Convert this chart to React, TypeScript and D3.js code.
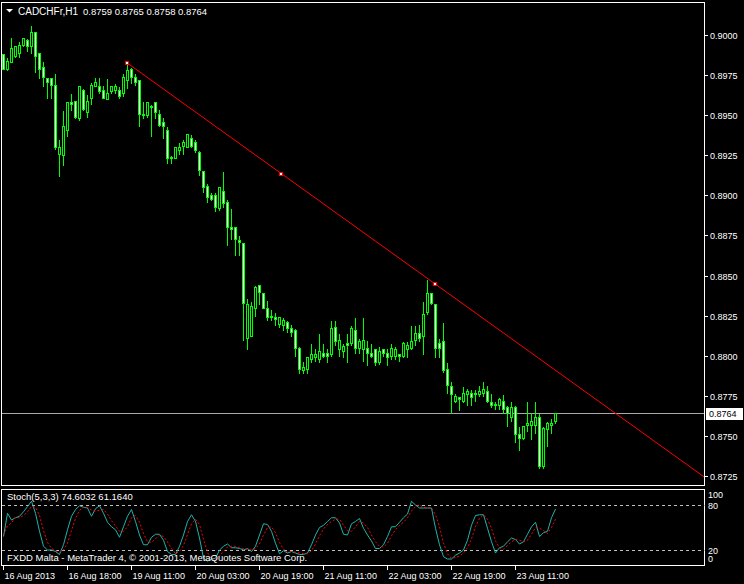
import React from 'react';
import * as d3 from 'd3';

// CADCHFr H1 candles
const open = [
  0.8988, 0.8979, 0.8983, 0.8987, 0.8989, 0.8994, 0.8997, 0.8993, 0.9002, 0.8989,
  0.8980, 0.8973, 0.8973, 0.8969, 0.8926, 0.8925, 0.8941, 0.8958, 0.8959, 0.8948,
  0.8966, 0.8952, 0.8961, 0.8968, 0.8968, 0.8966, 0.8960, 0.8965, 0.8966, 0.8966,
  0.8964, 0.8972, 0.8979, 0.8974, 0.8972, 0.8951, 0.8950, 0.8956, 0.8958, 0.8951,
  0.8946, 0.8941, 0.8924, 0.8923, 0.8928, 0.8931, 0.8930, 0.8936, 0.8933, 0.8927,
  0.8915, 0.8906, 0.8900, 0.8900, 0.8892, 0.8903, 0.8896, 0.8880, 0.8880, 0.8872,
  0.8870, 0.8811, 0.8812, 0.8830, 0.8844, 0.8839, 0.8830, 0.8825, 0.8824, 0.8820,
  0.8819, 0.8821, 0.8817, 0.8816, 0.8805, 0.8791, 0.8792, 0.8798, 0.8799, 0.8798,
  0.8802, 0.8802, 0.8801, 0.8818, 0.8804, 0.8803, 0.8808, 0.8808, 0.8816, 0.8805,
  0.8804, 0.8805, 0.8802, 0.8804, 0.8796, 0.8804, 0.8802, 0.8800, 0.8800, 0.8801,
  0.8800, 0.8804, 0.8805, 0.8810, 0.8814, 0.8812, 0.8827, 0.8839, 0.8832, 0.8808,
  0.8809, 0.8792, 0.8781, 0.8772, 0.8774, 0.8772, 0.8776, 0.8777, 0.8777, 0.8776,
  0.8777, 0.8778, 0.8771, 0.8770, 0.8769, 0.8772, 0.8768, 0.8762, 0.8768, 0.8751,
  0.8749, 0.8757, 0.8757, 0.8757, 0.8762, 0.8731, 0.8754, 0.8757, 0.8759,
];
const high = [
  0.8989, 0.8986, 0.8999, 0.8994, 0.8996, 0.8999, 0.8998, 0.9006, 0.9002, 0.8989,
  0.8984, 0.8974, 0.8974, 0.8976, 0.8935, 0.8953, 0.8959, 0.8964, 0.8959, 0.8969,
  0.8967, 0.8963, 0.8971, 0.8974, 0.8974, 0.8969, 0.8973, 0.8969, 0.8970, 0.8968,
  0.8976, 0.8982, 0.8980, 0.8976, 0.8972, 0.8959, 0.8959, 0.8957, 0.8959, 0.8954,
  0.8949, 0.8943, 0.8925, 0.8931, 0.8933, 0.8935, 0.8939, 0.8938, 0.8935, 0.8928,
  0.8916, 0.8908, 0.8902, 0.8902, 0.8906, 0.8915, 0.8898, 0.8892, 0.8880, 0.8875,
  0.8870, 0.8836, 0.8834, 0.8844, 0.8845, 0.8840, 0.8835, 0.8829, 0.8827, 0.8825,
  0.8824, 0.8822, 0.8820, 0.8817, 0.8806, 0.8797, 0.8799, 0.8808, 0.8805, 0.8814,
  0.8808, 0.8805, 0.8822, 0.8822, 0.8814, 0.8808, 0.8814, 0.8819, 0.8824, 0.8811,
  0.8824, 0.8810, 0.8808, 0.8805, 0.8806, 0.8805, 0.8805, 0.8808, 0.8806, 0.8802,
  0.8809, 0.8809, 0.8819, 0.8819, 0.8820, 0.8834, 0.8848, 0.8840, 0.8833, 0.8811,
  0.8821, 0.8796, 0.8784, 0.8777, 0.8775, 0.8781, 0.8780, 0.8779, 0.8779, 0.8782,
  0.8784, 0.8782, 0.8777, 0.8772, 0.8774, 0.8776, 0.8769, 0.8772, 0.8769, 0.8756,
  0.8757, 0.8772, 0.8765, 0.8772, 0.8764, 0.8756, 0.8759, 0.8761, 0.8765,
];
const low = [
  0.8979, 0.8978, 0.8983, 0.8986, 0.8986, 0.8993, 0.8990, 0.8989, 0.8977, 0.8973,
  0.8968, 0.8961, 0.8961, 0.8929, 0.8912, 0.8919, 0.8937, 0.8953, 0.8948, 0.8947,
  0.8953, 0.8949, 0.8957, 0.8968, 0.8964, 0.8961, 0.8960, 0.8964, 0.8964, 0.8961,
  0.8962, 0.8967, 0.8970, 0.8969, 0.8943, 0.8948, 0.8949, 0.8937, 0.8948, 0.8943,
  0.8936, 0.8920, 0.8920, 0.8923, 0.8926, 0.8926, 0.8930, 0.8930, 0.8927, 0.8913,
  0.8902, 0.8896, 0.8897, 0.8890, 0.8891, 0.8893, 0.8869, 0.8873, 0.8863, 0.8863,
  0.8810, 0.8804, 0.8812, 0.8825, 0.8832, 0.8830, 0.8822, 0.8822, 0.8819, 0.8818,
  0.8816, 0.8815, 0.8812, 0.8800, 0.8789, 0.8789, 0.8789, 0.8796, 0.8797, 0.8796,
  0.8799, 0.8796, 0.8800, 0.8807, 0.8800, 0.8799, 0.8796, 0.8807, 0.8802, 0.8802,
  0.8797, 0.8794, 0.8799, 0.8794, 0.8795, 0.8800, 0.8794, 0.8798, 0.8798, 0.8797,
  0.8799, 0.8799, 0.8804, 0.8807, 0.8809, 0.8801, 0.8826, 0.8832, 0.8799, 0.8799,
  0.8790, 0.8777, 0.8764, 0.8771, 0.8766, 0.8771, 0.8769, 0.8769, 0.8772, 0.8775,
  0.8775, 0.8771, 0.8768, 0.8767, 0.8767, 0.8764, 0.8756, 0.8759, 0.8746, 0.8741,
  0.8748, 0.8753, 0.8748, 0.8752, 0.8730, 0.8730, 0.8744, 0.8752, 0.8758,
];
const close = [
  0.8979, 0.8984, 0.8992, 0.8993, 0.8994, 0.8998, 0.8993, 0.9002, 0.8987, 0.8979,
  0.8974, 0.8971, 0.8969, 0.8930, 0.8930, 0.8943, 0.8958, 0.8957, 0.8949, 0.8968,
  0.8954, 0.8959, 0.8969, 0.8971, 0.8965, 0.8961, 0.8964, 0.8968, 0.8968, 0.8962,
  0.8974, 0.8978, 0.8974, 0.8971, 0.8951, 0.8950, 0.8958, 0.8955, 0.8952, 0.8944,
  0.8943, 0.8923, 0.8923, 0.8930, 0.8930, 0.8933, 0.8938, 0.8931, 0.8928, 0.8916,
  0.8905, 0.8899, 0.8898, 0.8893, 0.8905, 0.8895, 0.8880, 0.8879, 0.8873, 0.8871,
  0.8833, 0.8832, 0.8831, 0.8843, 0.8840, 0.8830, 0.8824, 0.8824, 0.8823, 0.8824,
  0.8822, 0.8817, 0.8815, 0.8805, 0.8792, 0.8793, 0.8799, 0.8801, 0.8801, 0.8803,
  0.8800, 0.8800, 0.8817, 0.8809, 0.8810, 0.8806, 0.8807, 0.8817, 0.8805, 0.8809,
  0.8810, 0.8802, 0.8800, 0.8796, 0.8803, 0.8802, 0.8799, 0.8805, 0.8804, 0.8800,
  0.8808, 0.8807, 0.8809, 0.8814, 0.8811, 0.8826, 0.8839, 0.8833, 0.8805, 0.8805,
  0.8791, 0.8782, 0.8776, 0.8775, 0.8773, 0.8777, 0.8778, 0.8774, 0.8776, 0.8778,
  0.8779, 0.8772, 0.8769, 0.8769, 0.8773, 0.8767, 0.8764, 0.8768, 0.8751, 0.8749,
  0.8756, 0.8758, 0.8759, 0.8762, 0.8731, 0.8755, 0.8758, 0.8758, 0.8764,
];

// Stochastic(5,3,3): main (%K) and signal (%D)
const stochK = [
  38, 69, 60, 63, 65, 71, 78, 85, 69, 45, 25, 20, 20, 18, 14, 27, 47, 65, 74, 79,
  77, 76, 65, 75, 79, 69, 57, 51, 47, 37, 51, 65, 74, 58, 40, 27, 27, 37, 41, 41,
  33, 18, 14, 14, 25, 40, 58, 67, 58, 36, 9, 5, 8, 9, 20, 25, 28, 23, 23, 22,
  20, 22, 18, 25, 40, 55, 54, 45, 29, 15, 19, 16, 18, 16, 14, 14, 16, 27, 40, 50,
  53, 58, 63, 63, 56, 41, 40, 55, 58, 62, 49, 40, 32, 22, 22, 27, 38, 51, 51, 57,
  63, 68, 85, 80, 76, 76, 76, 76, 49, 27, 11, 8, 8, 13, 16, 20, 33, 53, 66, 67,
  67, 49, 31, 16, 23, 25, 31, 36, 34, 28, 31, 41, 51, 57, 38, 43, 45, 63, 74.6032,
];
const stochD = [
  40, 52, 56, 64, 63, 66, 71, 78, 77, 66, 46, 30, 22, 19, 17, 20, 29, 46, 62, 73,
  77, 77, 73, 72, 73, 74, 68, 59, 52, 45, 45, 51, 63, 66, 57, 42, 31, 30, 35, 40,
  38, 31, 22, 15, 18, 26, 41, 55, 61, 54, 34, 17, 7, 7, 12, 18, 24, 25, 25, 23,
  22, 21, 20, 22, 28, 40, 50, 51, 43, 30, 21, 17, 18, 17, 16, 15, 15, 19, 28, 39,
  48, 54, 58, 61, 61, 53, 46, 45, 51, 58, 56, 50, 40, 31, 25, 24, 29, 39, 47, 53,
  57, 63, 72, 78, 80, 77, 76, 76, 67, 51, 29, 15, 9, 10, 12, 16, 23, 35, 51, 62,
  67, 61, 49, 32, 23, 21, 26, 31, 34, 33, 31, 33, 41, 50, 49, 46, 42, 50, 61.164,
];

const priceTicks = [0.9, 0.8975, 0.895, 0.8925, 0.89, 0.8875, 0.885, 0.8825, 0.88, 0.8775, 0.875, 0.8725];
const timeLabels = ['16 Aug 2013', '16 Aug 18:00', '19 Aug 11:00', '20 Aug 03:00', '20 Aug 19:00',
  '21 Aug 11:00', '22 Aug 03:00', '22 Aug 19:00', '23 Aug 11:00'];
const timeLabelBars = [0, 16, 32, 48, 64, 80, 96, 112, 128];

// trendline drawn between two bars
const trendBars = [31, 108];
const trendPrices = [0.89824, 0.88446];
const lastPrice = 0.8764;

const GREEN = '#00ff00';
const FONT = '"Liberation Sans", Arial, sans-serif';

export default function App() {
  const W = 744;
  const H = 584;
  const right = 704.5;

  const x = d3.scaleLinear().domain([0, 175]).range([3.5, 703.5]);
  const y = d3.scaleLinear().domain([0.8725, 0.9]).range([476, 35]);
  const ys = d3.scaleLinear().domain([0, 100]).range([565, 490]);
  const snap = (v: number) => Math.round(v) + 0.5;

  const kLine = d3.line<number>().x((d, i) => x(i)).y((d) => ys(d));

  // trendline extended to the right edge
  const tx0 = x(trendBars[0]);
  const ty0 = y(trendPrices[0]);
  const tx1 = x(trendBars[1]);
  const ty1 = y(trendPrices[1]);
  const slope = (ty1 - ty0) / (tx1 - tx0);
  const txEnd = right;
  const tyEnd = ty0 + slope * (txEnd - tx0);
  const marks = [[tx0, ty0], [(tx0 + tx1) / 2, (ty0 + ty1) / 2], [tx1, ty1]];

  return (
    <svg width={W} height={H} style={{ position: 'absolute', left: 0, top: 0, background: '#000' }}
      fontFamily={FONT}>
      <defs>
        <clipPath id="mainClip">
          <rect x={2} y={3} width={702} height={482} />
        </clipPath>
        <clipPath id="subClip">
          <rect x={2} y={490} width={702} height={75} />
        </clipPath>
      </defs>
      <rect width={W} height={H} fill="#000" />

      {/* current price line */}
      <line x1={2} x2={right} y1={snap(y(lastPrice))} y2={snap(y(lastPrice))} stroke="#a8a8a8" />

      {/* candles */}
      <g shapeRendering="crispEdges">
        {open.map((o, i) => {
          const c = close[i];
          const cx = x(i);
          const top = snap(y(Math.max(o, c)));
          const bot = snap(y(Math.min(o, c)));
          const bull = c > o;
          return (
            <g key={i}>
              <line x1={cx} x2={cx} y1={snap(y(high[i]))} y2={snap(y(low[i])) + 0.5} stroke={GREEN} />
              {top === bot ? (
                <line x1={cx - 1.5} x2={cx + 1.5} y1={top} y2={top} stroke={GREEN} />
              ) : (
                <rect x={cx - 1} y={top} width={2} height={bot - top}
                  fill={bull ? '#000' : '#fff'} stroke={GREEN} />
              )}
            </g>
          );
        })}
      </g>

      {/* trendline */}
      <g clipPath="url(#mainClip)">
        <line x1={tx0} y1={ty0} x2={txEnd} y2={tyEnd} stroke="#ff0000" />
        {marks.map(([mx, my], i) => (
          <rect key={i} x={Math.round(mx) - 1.5} y={Math.round(my) - 1.5} width={3} height={3}
            fill="#fff" stroke="#ff0000" shapeRendering="crispEdges" />
        ))}
      </g>

      {/* frames */}
      <g fill="none" stroke="#fff" shapeRendering="crispEdges">
        <rect x={1.5} y={2.5} width={right - 1.5} height={483} />
        <rect x={1.5} y={489.5} width={right - 1.5} height={76} />
      </g>

      {/* header */}
      <polygon points="6,9 13,9 9.5,12.5" fill="#fff" />
      <text x={18} y={15} fill="#fff" fontSize={10}>CADCHFr,H1</text>
      <text x={83} y={15} fill="#fff" fontSize={9.5}>0.8759 0.8765 0.8758 0.8764</text>

      {/* price axis */}
      <g shapeRendering="crispEdges">
        {priceTicks.map((p) => (
          <line key={p} x1={right} x2={708} y1={snap(y(p))} y2={snap(y(p))} stroke="#fff" />
        ))}
      </g>
      {priceTicks.map((p) => (
        <text key={p} x={710} y={snap(y(p)) + 3.5} fill="#fff" fontSize={9}>{p.toFixed(4)}</text>
      ))}
      <rect x={706} y={408} width={37} height={12} fill="#fff" />
      <text x={709} y={snap(y(lastPrice)) + 3.5} fill="#000" fontSize={9}>{lastPrice.toFixed(4)}</text>

      {/* stochastic window */}
      <g shapeRendering="crispEdges" stroke="#c0c0c0" strokeDasharray="3,3">
        {[80, 20].map((v) => (
          <line key={v} x1={2} x2={right} y1={snap(ys(v))} y2={snap(ys(v))} />
        ))}
      </g>
      <g clipPath="url(#subClip)" fill="none">
        <path d={kLine(stochK) || ''} stroke="#20b2aa" />
        <path d={kLine(stochD) || ''} stroke="#ff0000" strokeDasharray="2,2" />
      </g>
      <text x={7} y={500} fill="#fff" fontSize={9.5}>Stoch(5,3,3) 74.6032 61.1640</text>
      <text x={7} y={561} fill="#fff" fontSize={9.5}>FXDD Malta - MetaTrader 4, © 2001-2013, MetaQuotes Software Corp.</text>
      {[100, 80, 20, 0].map((v) => (
        <text key={v} x={708} y={v === 100 ? 498 : v === 0 ? 562 : snap(ys(v)) + 3} fill="#fff" fontSize={9}>{v}</text>
      ))}

      {/* time axis */}
      <g shapeRendering="crispEdges">
        {timeLabelBars.map((b) => (
          <line key={b} x1={x(b)} x2={x(b)} y1={566} y2={570} stroke="#fff" />
        ))}
      </g>
      {timeLabels.map((t, i) => (
        <text key={t} x={x(timeLabelBars[i]) + 1} y={579} fill="#fff" fontSize={9}>{t}</text>
      ))}
    </svg>
  );
}
